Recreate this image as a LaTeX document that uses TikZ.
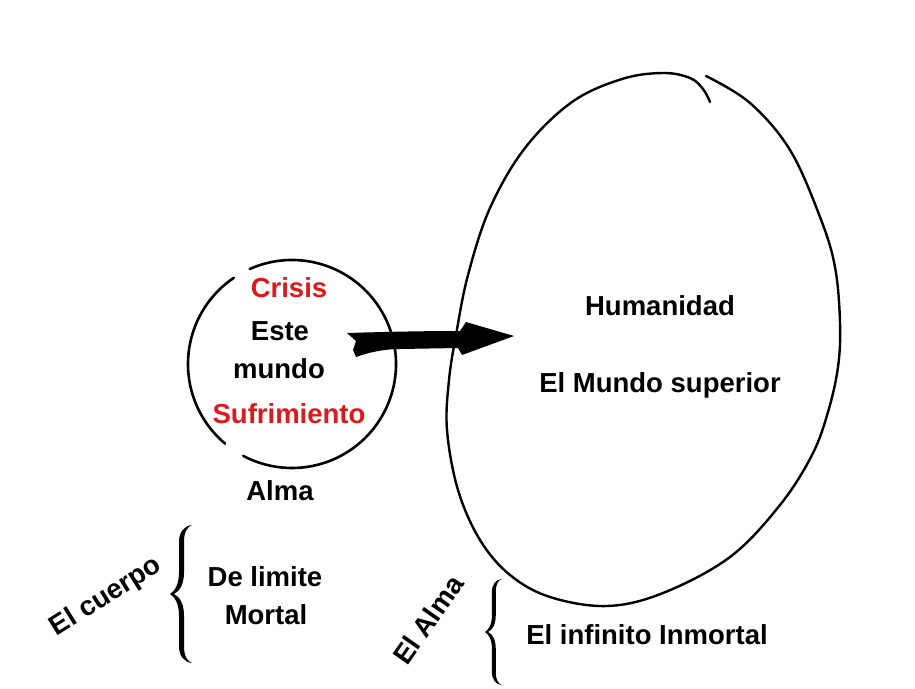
\documentclass[tikz,border=0pt]{standalone}
\usepackage{fontspec}
\setmainfont{Liberation Sans}
\definecolor{myred}{RGB}{220,26,28}
\tikzset{
  cbrace/.pic={
    \fill (22,-69) .. controls (14,-68) and (9,-62) .. (9,-52) -- (9,-22)
      .. controls (9,-10) and (5,-3) .. (0,0)
      .. controls (5,3) and (9,10) .. (9,22) -- (9,52)
      .. controls (9,62) and (14,68) .. (22,69)
      .. controls (17,67) and (14,62) .. (14,52) -- (14,22)
      .. controls (14,10) and (10,3) .. (4,0)
      .. controls (10,-3) and (14,-10) .. (14,-22) -- (14,-52)
      .. controls (14,-62) and (17,-67) .. (22,-69) -- cycle;
  }
}
\begin{document}
\begin{tikzpicture}[x=1pt,y=-1pt,
  lbl/.style={font=\fontsize{27.5}{33}\selectfont\bfseries, inner sep=0pt, anchor=base},
  redlbl/.style={lbl, text=myred},
  stroke/.style={line width=2.6pt, line cap=round}]
\useasboundingbox[fill=white] (0,0) rectangle (915,688);

% small circle (broken)
\coordinate (cc) at (292,364);
\draw[stroke] (cc) ++(-114:104) arc[start angle=-114, end angle=118, radius=104];
\draw[stroke] (cc) ++(-230:104) arc[start angle=-230, end angle=-124, radius=104];

% big egg
\draw[stroke, line width=2.4pt] plot[smooth, tension=0.6] coordinates {
  (706,76) (750,103) (790,150) (820,217) (835,267) (840,323) (838,367) (828,412)
  (812,455) (780,505) (730,557) (663,593) (607,606) (550,597) (510,575) (480,540)
  (458,490) (447,430) (449,380) (456,335) (468,275) (490,208) (525,148)
  (572,102) (622,79) (663,73) (690,78) (703,89) (710,102)};

% arrow
\fill (347,333) -- (356,341) -- (353,350) -- (356,357)
  .. controls (370,352) and (385,349) .. (400,349) -- (458,348)
  -- (462,355) -- (514,336) -- (466,322) -- (460,331)
  .. controls (420,331) and (380,332) .. (347,333) -- cycle;

% texts in circle
\node[redlbl] (crisis) at (289,297) {Crisis};
\node[lbl] (este) at (280,340) {Este};
\node[lbl] (mundo) at (279,378) {mundo};
\node[redlbl] (sufr) at (289,423) {Sufrimiento};
\node[lbl] (alma) at (280,500) {Alma};

% texts in egg
\node[lbl] (human) at (660,315) {Humanidad};
\node[lbl] (superior) at (660,392) {El Mundo superior};

% lower left
\node[lbl, anchor=center, rotate=32] (cuerpo) at (106,597) {El cuerpo};
\pic at (170,594) {cbrace};
\node[lbl] (limite) at (265,586) {De limite};
\node[lbl] (mortal) at (266,624) {Mortal};

% lower right
\node[lbl, anchor=center, rotate=55] (elalma) at (428,620) {El Alma};
\pic[scale=0.77] at (485,632) {cbrace};
\node[lbl] (infinito) at (647,644) {El infinito Inmortal};
\end{tikzpicture}
\end{document}
